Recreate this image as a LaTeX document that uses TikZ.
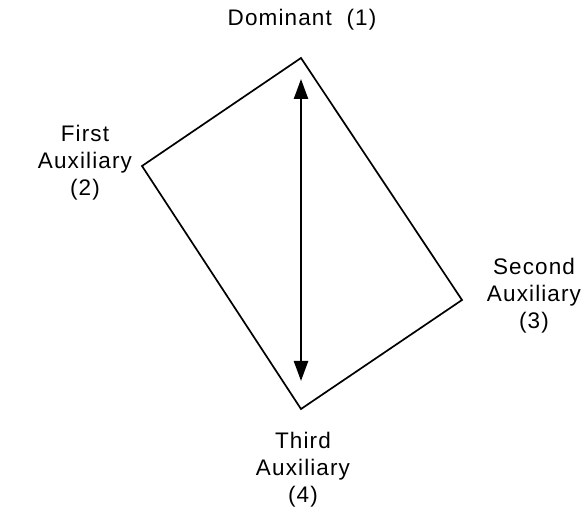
\documentclass[tikz,border=0pt]{standalone}
\usepackage{fontspec}
\setmainfont{Liberation Sans}[LetterSpace=5]
\usetikzlibrary{arrows.meta}
\begin{document}
\begin{tikzpicture}[x=1pt,y=-1pt,
  label/.style={align=center,font=\fontsize{22.5}{27}\selectfont,inner sep=0pt},
  frame/.style={line width=1.7pt,line join=miter},
  axis/.style={line width=2.4pt,{Triangle[length=20pt,width=14pt]}-{Triangle[length=20pt,width=14pt]}}]
\useasboundingbox (0,0) rectangle (584,518);
% corners of the tilted rectangle
\coordinate (top) at (301,58);
\coordinate (left) at (142,166);
\coordinate (bottom) at (301,409);
\coordinate (right) at (462,300);
\draw[frame] (top) -- (left) -- (bottom) -- (right) -- cycle;
% double-headed axis between dominant and third
\coordinate (up) at (301,79);
\coordinate (down) at (301,381);
\draw[axis] (up) -- (down);
% labels
\node[label] (dom) at (302,20) {Dominant\ \ (1)};
\node[label] (first) at (85,163) {First\\Auxiliary\\(2)};
\node[label] (second) at (534,296) {Second\\Auxiliary\\(3)};
\node[label] (third) at (303,470) {Third\\Auxiliary\\(4)};
\end{tikzpicture}
\end{document}
